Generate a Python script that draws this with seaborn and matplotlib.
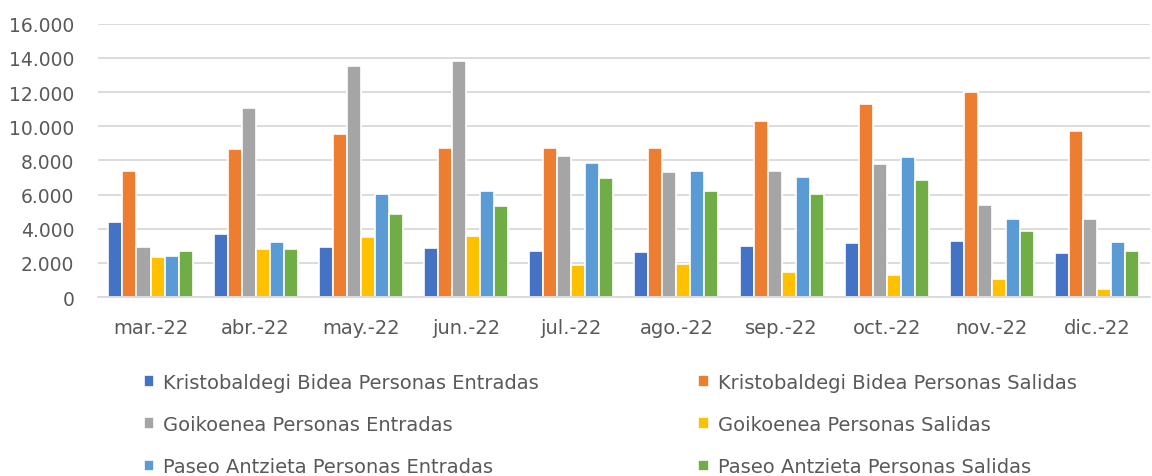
import seaborn as sns
import pandas as pd
import matplotlib.pyplot as plt
from matplotlib.ticker import FuncFormatter

months = ["mar.-22", "abr.-22", "may.-22", "jun.-22", "jul.-22",
          "ago.-22", "sep.-22", "oct.-22", "nov.-22", "dic.-22"]

series_names = [
    "Kristobaldegi Bidea Personas Entradas",
    "Kristobaldegi Bidea Personas Salidas",
    "Goikoenea Personas Entradas",
    "Goikoenea Personas Salidas",
    "Paseo Antzieta Personas Entradas",
    "Paseo Antzieta Personas Salidas",
]

kristobaldegi_entradas = [4420, 3715, 2930, 2895, 2700, 2660, 2970, 3150, 3305, 2600]
kristobaldegi_salidas = [7370, 8670, 9520, 8710, 8710, 8710, 10300, 11290, 12000, 9750]
goikoenea_entradas = [2950, 11100, 13540, 13830, 8250, 7310, 7370, 7820, 5420, 4570]
goikoenea_salidas = [2370, 2800, 3500, 3560, 1860, 1920, 1490, 1270, 1080, 470]
antzieta_entradas = [2430, 3220, 6020, 6210, 7840, 7370, 7060, 8190, 4590, 3210]
antzieta_salidas = [2720, 2840, 4850, 5320, 6960, 6240, 6020, 6840, 3890, 2700]

colors = ["#4472C4", "#ED7D31", "#A5A5A5", "#FFC000", "#5B9BD5", "#70AD47"]

all_values = [kristobaldegi_entradas, kristobaldegi_salidas, goikoenea_entradas,
              goikoenea_salidas, antzieta_entradas, antzieta_salidas]

rows = []
for name, vals in zip(series_names, all_values):
    for m, v in zip(months, vals):
        rows.append({"mes": m, "serie": name, "personas": v})
df = pd.DataFrame(rows)

sns.set_theme(style="white")
plt.rcParams['font.family'] = ['DejaVu Sans']

fig = plt.figure(figsize=(11.52, 4.77), dpi=100)
ax = fig.add_axes([0.085, 0.375, 0.913, 0.573])

sns.barplot(data=df, x="mes", y="personas", hue="serie", hue_order=series_names,
            order=months, palette=colors, saturation=1, width=0.8,
            edgecolor="white", linewidth=1.2, ax=ax, legend=True)

ax.set_ylim(0, 16000)
ax.set_yticks(range(0, 16001, 2000))
ax.yaxis.set_major_formatter(FuncFormatter(lambda v, p: f"{int(v):,}".replace(",", ".")))
ax.grid(axis="y", color="#D9D9D9", linewidth=1.3)
ax.set_axisbelow(True)
ax.set_xlabel("")
ax.set_ylabel("")
for s in ["top", "right", "left"]:
    ax.spines[s].set_visible(False)
ax.spines["bottom"].set_color("#D9D9D9")
ax.spines["bottom"].set_linewidth(1.3)
ax.tick_params(axis="both", length=0, labelsize=14, colors="#595959")
ax.tick_params(axis="y", labelsize=13.5, pad=17)
ax.tick_params(axis="x", pad=15)
ax.set_xlim(-0.5, len(months) - 0.5)

handles, labels = ax.get_legend_handles_labels()
ax.get_legend().remove()
order = [0, 2, 4, 1, 3, 5]
fig.legend([handles[i] for i in order], [labels[i] for i in order],
           loc="upper left", bbox_to_anchor=(0.118, 0.233), ncol=2,
           frameon=False, fontsize=14, labelcolor="#595959",
           handlelength=0.55, handleheight=0.55, handletextpad=0.45,
           columnspacing=8.2, labelspacing=1.2, borderaxespad=0)

fig.savefig("out.png", dpi=100)
